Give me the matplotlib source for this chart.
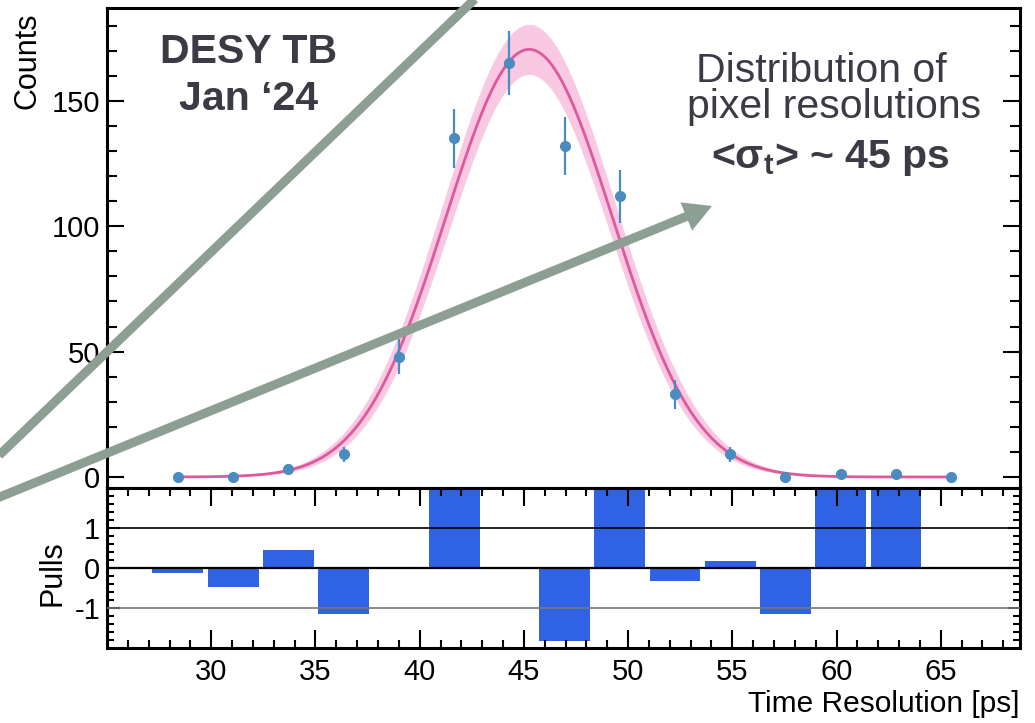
import numpy as np
import matplotlib as mpl
mpl.use("Agg")
import matplotlib.pyplot as plt
from matplotlib.lines import Line2D
from matplotlib.patches import FancyArrowPatch, ArrowStyle

plt.rcParams['font.family'] = ['Liberation Sans', 'DejaVu Sans']
plt.rcParams['mathtext.fontset'] = 'custom'
plt.rcParams['mathtext.rm'] = 'Liberation Sans'
plt.rcParams['mathtext.bf'] = 'Liberation Sans:bold'

# histogram of per-pixel time resolutions (bin centres in ps)
bin_centers = [28.4, 31.05, 33.7, 36.35, 39.0, 41.65, 44.3, 46.95, 49.6,
               52.25, 54.9, 57.55, 60.2, 62.85, 65.5]
counts = [0, 0, 3, 9, 48, 135, 165, 132, 112, 33, 9, 0, 1, 1, 0]
count_err = [0, 0, 1.7, 3.0, 6.9, 11.6, 12.8, 11.5, 10.6, 5.7, 3.0, 0, 1.0, 1.0, 0]
pulls = [-0.12, -0.48, 0.44, -1.15, -0.03, 2.5, 0.0, -1.83, 2.5,
         -0.33, 0.18, -1.15, 2.5, 2.5, 0.0]

# gaussian fit result
fit_amp, fit_amp_err = 170.5, 10.0
fit_mean = 45.25
fit_sigma, fit_sigma_err = 4.0, 0.12
fit_range = (28.4, 65.5)

txt_col = '#3b3b45'
pt_col = '#4a8cc0'
fit_col = '#e0589c'
band_col = '#f9c8e2'
bar_col = '#2f63e3'
arrow_col = '#8c9f92'

fig = plt.figure(figsize=(10.35, 7.23), dpi=100)
ax = fig.add_axes([0.1034, 0.325, 0.8821, 0.6639])
axp = fig.add_axes([0.1034, 0.1037, 0.8821, 0.2213], sharex=ax)

# fit curve + band
xf = np.linspace(fit_range[0], fit_range[1], 400)
def gaus(x, a, m, s):
    return a * np.exp(-0.5 * ((x - m) / s) ** 2)
yf = gaus(xf, fit_amp, fit_mean, fit_sigma)
y_hi = gaus(xf, fit_amp + fit_amp_err, fit_mean, fit_sigma + fit_sigma_err)
y_lo = gaus(xf, fit_amp - fit_amp_err, fit_mean, fit_sigma - fit_sigma_err)
ax.fill_between(xf, y_lo, y_hi, color=band_col, lw=0, zorder=1)
ax.plot(xf, yf, color=fit_col, lw=2.0, zorder=2)

ax.errorbar(bin_centers, counts, yerr=count_err, fmt='o', ms=7, color=pt_col,
            elinewidth=1.6, capsize=0, zorder=3)

ax.set_xlim(25, 68.8)
ax.set_ylim(-4.4, 187)
ax.set_yticks([0, 50, 100, 150])
ax.set_yticks(np.arange(0, 181, 10), minor=True)
ax.tick_params(axis='y', which='both', direction='in', left=True, right=True,
               labelsize=21, pad=5, width=1.5)
ax.tick_params(axis='y', which='major', length=12)
ax.tick_params(axis='y', which='minor', length=7)
ax.tick_params(axis='x', which='both', bottom=False, top=False, labelbottom=False)
ax.set_ylabel('Counts', fontsize=22, loc='top')
ax.yaxis.set_label_coords(-0.071, 0.99)

# annotations, one line each (baseline positions in axes fraction)
tkw = dict(transform=ax.transAxes, ha='center', va='baseline', fontsize=29.5, color=txt_col)
ax.text(0.1555, 0.8854, 'DESY TB', fontweight='bold', **tkw)
ax.text(0.1545, 0.7875, 'Jan \u201824', fontweight='bold', **tkw)
ax.text(0.782, 0.8458, 'Distribution of', **tkw)
ax.text(0.7962, 0.7708, 'pixel resolutions', **tkw)
ax.text(0.7918, 0.6667, r'<σ$_\mathbf{t}$> ~ 45 ps', fontweight='bold', **tkw)

# pulls
axp.bar(bin_centers, pulls, width=2.44, color=bar_col, zorder=1)
axp.axhline(0, color='black', lw=1.6, zorder=3)
axp.axhline(1, color='black', lw=1.2, zorder=3)
axp.axhline(-1, color='#777777', lw=1.2, zorder=3)
axp.set_ylim(-2, 2)
axp.set_yticks([-1, 0, 1])
axp.set_yticklabels(['-1', '0', '1'])
axp.set_yticks(np.arange(-1.8, 1.81, 0.2), minor=True)
axp.set_xticks(range(30, 66, 5))
axp.set_xticks(range(26, 69), minor=True)
axp.tick_params(which='both', direction='in', top=True, right=True, labelsize=21, width=1.5)
axp.tick_params(axis='x', which='major', length=13, pad=7)
axp.tick_params(axis='x', which='minor', length=6)
axp.tick_params(axis='y', which='major', length=9, pad=5)
axp.tick_params(axis='y', which='minor', length=5)
axp.set_ylabel('Pulls', fontsize=22)
axp.yaxis.set_label_coords(-0.043, 0.47)
axp.set_xlabel('Time Resolution [ps]', fontsize=21.5, loc='right')
axp.xaxis.set_label_coords(1.0, -0.26)

for a in (ax, axp):
    for s in a.spines.values():
        s.set_linewidth(2.2)

# overlay arrows (figure pixel positions)
W, H = 1035.0, 723.0
def fp(x, y):
    return (x / W, 1 - y / H)
l1 = [fp(-10, 464), fp(478, -4)]
fig.add_artist(Line2D([l1[0][0], l1[1][0]], [l1[0][1], l1[1][1]],
                      transform=fig.transFigure, color=arrow_col, lw=6.5,
                      solid_capstyle='butt', zorder=10))
arr = FancyArrowPatch(fp(-10, 501), fp(712, 206), transform=fig.transFigure,
                      arrowstyle=ArrowStyle('simple', head_length=2.0, head_width=2.2,
                                            tail_width=0.65),
                      mutation_scale=10, color=arrow_col, lw=0, shrinkA=0, shrinkB=0,
                      zorder=10)
fig.add_artist(arr)

plt.savefig('out.png', dpi=100)
